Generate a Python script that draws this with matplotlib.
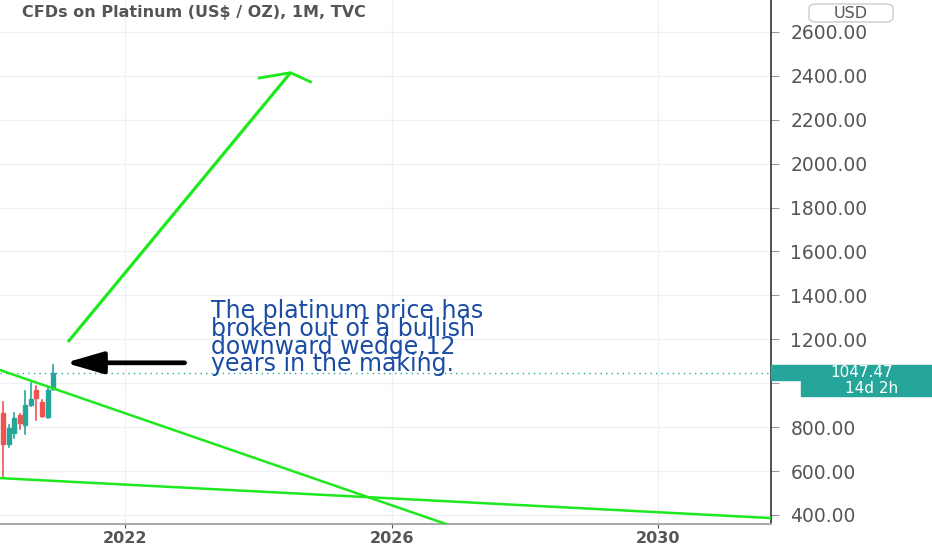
import matplotlib
matplotlib.use('agg')
import matplotlib.pyplot as plt
from matplotlib.patches import Rectangle, FancyBboxPatch

# monthly candles, platinum 2020 (decimal year of month start)
months = [2020 + m / 12 for m in range(2, 12)]
opens  = [866, 723, 773, 855, 810, 901, 969, 916, 848, 974]
highs  = [916, 810, 866, 860, 966, 1003, 987, 924, 984, 1083]
lows   = [568, 710, 751, 792, 769, 896, 832, 848, 842, 969]
closes = [723, 796, 842, 820, 901, 928, 933, 851, 969, 1047.47]
last_price = 1047.47

# drawn lines (x in years, y in US$)
upper_wedge = ([2020.12, 2026.85], [1060, 355])
lower_wedge = ([2020.12, 2031.69], [568, 386])
green_arrow = ([2021.14, 2024.48], [1188, 2414])
green_barbs = ([2024.01, 2024.48, 2024.78], [2390, 2414, 2372])
black_arrow = ([2022.89, 2021.1], [1093, 1093])

y_ticks = [400, 600, 800, 1000, 1200, 1400, 1600, 1800, 2000, 2200, 2400, 2600]
x_ticks = [2022, 2026, 2030]

note = "The platinum price has\nbroken out of a bullish\ndownward wedge,12\nyears in the making."

UP = '#26a69a'
DOWN = '#ef5350'
LIME = '#1ee81e'
GREY = '#555555'

fig = plt.figure(figsize=(9.32, 5.5), dpi=100)
ax = fig.add_axes([0, 26/550, 771/932, 524/550])
ax.set_xlim(2020.12, 2031.69)
ax.set_ylim(359, 2745)

for x, o, h, l, c in zip(months, opens, highs, lows, closes):
    col = UP if c >= o else DOWN
    ax.plot([x, x], [l, h], color=col, lw=1.2, zorder=3)
    ax.add_patch(Rectangle((x - 0.03, min(o, c)), 0.06, abs(c - o), color=col, zorder=3))

ax.axhline(last_price, color=UP, lw=1, ls=(0, (1, 3)), zorder=2)

ax.plot(*upper_wedge, color=LIME, lw=1.8, zorder=4)
ax.plot(*lower_wedge, color=LIME, lw=1.8, zorder=4)
ax.plot(*green_arrow, color=LIME, lw=2.3, zorder=4, solid_capstyle='butt')
ax.plot(*green_barbs, color=LIME, lw=2.0, zorder=4)

ax.annotate('', xy=(black_arrow[0][1], black_arrow[1][1]), xytext=(black_arrow[0][0], black_arrow[1][0]),
            arrowprops=dict(arrowstyle='-|>,head_length=1.9,head_width=0.55', mutation_scale=12,
                            color='black', lw=3.4, shrinkA=0, shrinkB=0), zorder=5)

ax.text(2023.29, 1385, note, color='#1a4ca3', fontsize=17, linespacing=0.68,
        va='top', ha='left', family='DejaVu Sans')

# axes styling
ax.yaxis.tick_right()
ax.set_yticks(y_ticks)
ax.set_yticklabels(['' if v == 1000 else f'{v:.2f}' for v in y_ticks])
ax.set_xticks(x_ticks)
ax.set_xticklabels([str(v) for v in x_ticks], fontweight='bold')
ax.tick_params(axis='y', length=6, color='#999999', labelcolor=GREY, labelsize=13.5, pad=8)
ax.tick_params(axis='x', length=3, color='#555555', labelcolor=GREY, labelsize=11.5, pad=2)
ax.grid(True, color='#eef0f5', lw=1, zorder=0)
for s in ['top', 'left']:
    ax.spines[s].set_visible(False)
ax.spines['right'].set_color('#333333')
ax.spines['right'].set_linewidth(1.2)
ax.spines['bottom'].set_color('#aaaaaa')
ax.spines['bottom'].set_linewidth(1.5)

fig.text(22/932, 1 - 13/550, 'CFDs on Platinum (US$ / OZ), 1M, TVC', color=GREY,
         fontsize=11.5, fontweight='bold', va='center', ha='left')

# USD badge
fig.patches.append(FancyBboxPatch((809/932, 1 - 22/550), 84/932, 18/550, boxstyle='round,pad=0,rounding_size=0.008',
                                  transform=fig.transFigure, fc='white', ec='#cccccc', lw=1))
fig.text(851/932, 1 - 13/550, 'USD', color=GREY, fontsize=11.5, ha='center', va='center')

# last price + countdown labels
fig.patches.append(Rectangle((771/932, 1 - 380/550), 161/932, 15/550, transform=fig.transFigure, color=UP, zorder=10))
fig.patches.append(Rectangle((801/932, 1 - 396/550), 131/932, 16/550, transform=fig.transFigure, color=UP, zorder=10))
fig.text(862/932, 1 - 372.5/550, '1047.47', color='white', fontsize=11, ha='center', va='center', zorder=11)
fig.text(872/932, 1 - 388.5/550, '14d 2h', color='white', fontsize=11, ha='center', va='center', zorder=11)

fig.savefig('out.png', dpi=100)
